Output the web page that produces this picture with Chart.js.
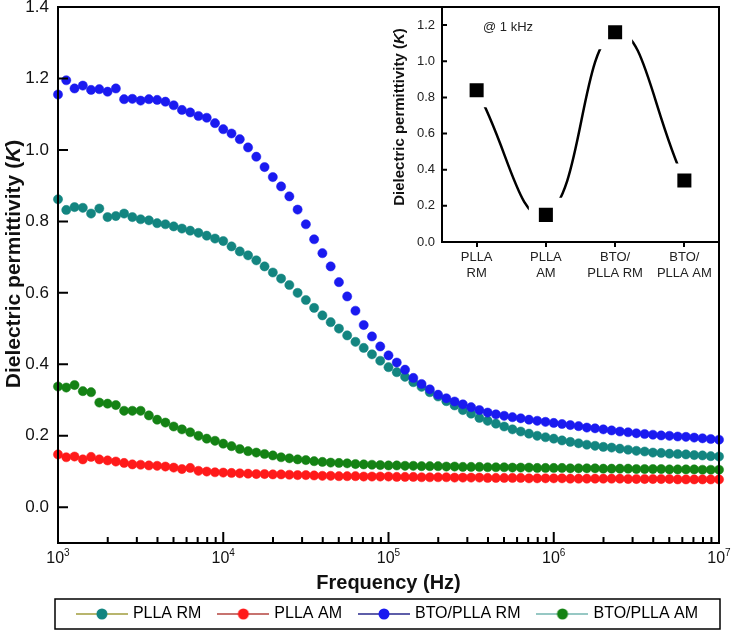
<!DOCTYPE html>
<html>
<head>
<meta charset="utf-8">
<script src="https://cdn.jsdelivr.net/npm/chart.js@4.4.1/dist/chart.umd.min.js"></script>
<style>
html,body{margin:0;padding:0;background:#fff}
#wrap{position:relative;width:731px;height:636px}
#main{position:absolute;left:0;top:0}
#inset{position:absolute;left:370px;top:0}
</style>
</head>
<body>
<div id="wrap">
  <canvas id="main" width="731" height="636"></canvas>
  <canvas id="inset" width="352" height="300"></canvas>
</div>
<script>
const FONT = '"Liberation Sans", Arial, Helvetica, sans-serif';

// log sweep, 20 points per decade
const FREQ_HZ = [1000,1122,1259,1413,1585,1778,1995,2239,2512,2818,3162,3548,3981,4467,5012,5623,6310,7079,7943,8913,
  10000,11220,12590,14130,15850,17780,19950,22390,25120,28180,31620,35480,39810,44670,50120,56230,63100,70790,79430,89130,
  100000,112200,125900,141300,158500,177800,199500,223900,251200,281800,316200,354800,398100,446700,501200,562300,631000,707900,794300,891300,
  1000000,1122000,1259000,1413000,1585000,1778000,1995000,2239000,2512000,2818000,3162000,3548000,3981000,4467000,5012000,5623000,6310000,7079000,7943000,8913000,
  10000000];

const PLLA_RM = [0.862,0.832,0.84,0.838,0.822,0.836,0.812,0.815,0.822,0.812,0.806,0.803,0.795,0.792,0.786,0.78,0.774,0.768,0.76,0.752,
  0.745,0.73,0.716,0.705,0.691,0.674,0.657,0.64,0.622,0.6,0.58,0.558,0.537,0.518,0.5,0.481,0.463,0.446,0.428,0.41,
  0.392,0.378,0.365,0.35,0.337,0.322,0.31,0.297,0.285,0.272,0.262,0.25,0.242,0.234,0.226,0.218,0.212,0.206,0.2,0.196,
  0.192,0.187,0.183,0.179,0.175,0.172,0.169,0.167,0.164,0.161,0.158,0.156,0.153,0.152,0.15,0.149,0.148,0.146,0.145,0.143,
  0.142];
const PLLA_AM = [0.148,0.14,0.142,0.134,0.141,0.134,0.131,0.128,0.124,0.12,0.119,0.117,0.116,0.114,0.111,0.107,0.11,0.102,0.1,0.098,
  0.097,0.096,0.095,0.094,0.093,0.093,0.092,0.092,0.091,0.09,0.09,0.089,0.088,0.088,0.087,0.087,0.087,0.086,0.086,0.086,
  0.086,0.085,0.085,0.085,0.084,0.084,0.084,0.084,0.083,0.083,0.083,0.083,0.082,0.082,0.082,0.082,0.082,0.081,0.081,0.081,
  0.081,0.081,0.08,0.08,0.08,0.08,0.08,0.08,0.08,0.079,0.079,0.079,0.079,0.079,0.079,0.078,0.078,0.078,0.078,0.078,
  0.078];
const BTO_PLLA_RM = [1.155,1.195,1.172,1.18,1.168,1.17,1.163,1.172,1.142,1.143,1.138,1.142,1.14,1.135,1.125,1.112,1.105,1.095,1.09,1.075,
  1.058,1.046,1.03,1.007,0.981,0.952,0.924,0.898,0.87,0.833,0.792,0.75,0.711,0.674,0.63,0.59,0.55,0.51,0.478,0.45,
  0.425,0.405,0.385,0.362,0.345,0.33,0.315,0.305,0.296,0.288,0.28,0.272,0.265,0.26,0.256,0.252,0.249,0.245,0.242,0.239,
  0.236,0.233,0.23,0.227,0.223,0.221,0.218,0.215,0.212,0.21,0.207,0.205,0.203,0.201,0.2,0.198,0.197,0.195,0.193,0.191,
  0.189];
const BTO_PLLA_AM = [0.338,0.335,0.342,0.325,0.322,0.293,0.29,0.286,0.27,0.27,0.27,0.257,0.245,0.237,0.226,0.218,0.21,0.2,0.192,0.186,
  0.178,0.171,0.163,0.157,0.153,0.149,0.145,0.14,0.137,0.134,0.132,0.129,0.127,0.125,0.124,0.123,0.121,0.12,0.119,0.118,
  0.117,0.117,0.116,0.116,0.115,0.115,0.115,0.114,0.114,0.113,0.113,0.113,0.112,0.112,0.112,0.111,0.111,0.111,0.11,0.11,
  0.11,0.11,0.109,0.109,0.109,0.109,0.108,0.108,0.108,0.108,0.107,0.107,0.107,0.107,0.106,0.106,0.106,0.106,0.105,0.105,
  0.105];

const SERIES_NAMES = ['PLLA RM', 'PLLA AM', 'BTO/PLLA RM', 'BTO/PLLA AM'];
const SERIES_VALUES = [PLLA_RM, PLLA_AM, BTO_PLLA_RM, BTO_PLLA_AM];
const X_EXPONENTS = [3, 4, 5, 6, 7];

// inset: value at 1 kHz
const INSET_LABELS = [['PLLA', 'RM'], ['PLLA', 'AM'], ['BTO/', 'PLLA RM'], ['BTO/', 'PLLA AM']];
const INSET_VALUES = [0.84, 0.15, 1.16, 0.34];

const STYLE = [
  {dot: '#138580', line: '#a09c3c', order: 1},
  {dot: '#ff1a1a', line: '#b4443f', order: 1},
  {dot: '#1a1af0', line: '#28288c', order: 0},
  {dot: '#148214', line: '#74b6b0', order: 1}
];

Chart.defaults.font.family = FONT;

// legend glyph: line with a dot in the middle
function glyph(lineColor, dotColor) {
  const c = document.createElement('canvas');
  c.width = 52; c.height = 14;
  const g = c.getContext('2d');
  g.strokeStyle = lineColor; g.lineWidth = 1.5;
  g.beginPath(); g.moveTo(0, 7); g.lineTo(52, 7); g.stroke();
  g.fillStyle = dotColor;
  g.beginPath(); g.arc(26, 7, 5.5, 0, Math.PI * 2); g.fill();
  return c;
}
const GLYPHS = STYLE.map(s => glyph(s.line, s.dot));

function yTitle(ctx, x, y, size) {
  const bold = 'bold ' + size + 'px ' + FONT, ital = 'italic bold ' + size + 'px ' + FONT;
  const parts = [['Dielectric permittivity (', bold], ['K', ital], [')', bold]];
  ctx.save();
  ctx.translate(x, y); ctx.rotate(-Math.PI / 2);
  let total = 0;
  parts.forEach(p => { ctx.font = p[1]; total += ctx.measureText(p[0]).width; });
  let cx = -total / 2;
  ctx.textBaseline = 'middle'; ctx.textAlign = 'left'; ctx.fillStyle = '#111';
  parts.forEach(p => { ctx.font = p[1]; ctx.fillText(p[0], cx, 0); cx += ctx.measureText(p[0]).width; });
  ctx.restore();
}

function noPad(s) { s.paddingTop = 0; s.paddingBottom = 0; s.paddingLeft = 0; s.paddingRight = 0; }

const mainDeco = {
  id: 'mainDeco',
  afterDraw(chart) {
    const {ctx, chartArea: a, scales: {x, y}} = chart;
    ctx.save();
    ctx.strokeStyle = '#000'; ctx.lineWidth = 2; ctx.lineJoin = 'miter';
    ctx.strokeRect(a.left, a.top, a.right - a.left, a.bottom - a.top);
    // inward ticks
    ctx.beginPath();
    X_EXPONENTS.forEach((e, k) => {
      const px = x.getPixelForValue(Math.pow(10, e));
      ctx.moveTo(px, a.bottom); ctx.lineTo(px, a.bottom - 11);
      if (k < X_EXPONENTS.length - 1) {
        for (let m = 2; m <= 9; m++) {
          const p = x.getPixelForValue(m * Math.pow(10, e));
          ctx.moveTo(p, a.bottom); ctx.lineTo(p, a.bottom - 6);
        }
      }
    });
    y.ticks.forEach(t => {
      const py = y.getPixelForValue(t.value);
      ctx.moveTo(a.left, py); ctx.lineTo(a.left + 10, py);
    });
    ctx.stroke();
    // x tick labels 10^n
    ctx.fillStyle = '#111'; ctx.textAlign = 'left'; ctx.textBaseline = 'alphabetic';
    X_EXPONENTS.forEach(e => {
      const px = x.getPixelForValue(Math.pow(10, e));
      ctx.font = '16px ' + FONT; const wb = ctx.measureText('10').width;
      ctx.font = '10px ' + FONT; const we = ctx.measureText(String(e)).width;
      const sx = px - (wb + we) / 2;
      ctx.font = '16px ' + FONT; ctx.fillText('10', sx, a.bottom + 20);
      ctx.font = '10px ' + FONT; ctx.fillText(String(e), sx + wb, a.bottom + 13);
    });
    // axis titles
    ctx.font = 'bold 20px ' + FONT; ctx.textAlign = 'center'; ctx.textBaseline = 'middle';
    ctx.fillText('Frequency (Hz)', (a.left + a.right) / 2, a.bottom + 40);
    yTitle(ctx, 14, 264, 21);
    // legend frame
    const hb = chart.legend.legendHitBoxes;
    if (hb && hb.length) {
      const top = Math.min(...hb.map(h => h.top)) - 7;
      const bot = Math.max(...hb.map(h => h.top + h.height)) + 7;
      ctx.lineWidth = 1.5;
      ctx.strokeRect(a.left - 3, top, a.right - a.left + 4, bot - top);
    }
    ctx.restore();
  }
};

new Chart(document.getElementById('main'), {
  type: 'scatter',
  data: {
    datasets: SERIES_NAMES.map((name, i) => ({
      label: name,
      data: FREQ_HZ.map((f, k) => ({x: f, y: SERIES_VALUES[i][k]})),
      showLine: false,
      pointRadius: 4.6,
      pointBorderWidth: 0.5,
      pointBackgroundColor: STYLE[i].dot,
      pointBorderColor: STYLE[i].dot,
      order: STYLE[i].order,
      clip: false
    }))
  },
  options: {
    responsive: false, animation: false, devicePixelRatio: 1,
    layout: {autoPadding: false, padding: {top: 7, right: 12, bottom: 4, left: 0}},
    plugins: {
      tooltip: {enabled: false},
      legend: {
        position: 'bottom', fullSize: false,
        labels: {
          usePointStyle: true, pointStyleWidth: 46, padding: 19,
          color: '#000', font: {family: FONT, size: 16},
          generateLabels: chart => chart.data.datasets.map((ds, i) => ({
            text: ds.label, pointStyle: GLYPHS[i], datasetIndex: i, hidden: false,
            fillStyle: 'rgba(0,0,0,0)', strokeStyle: 'rgba(0,0,0,0)', lineWidth: 0, fontColor: '#000'
          }))
        }
      }
    },
    scales: {
      x: {
        type: 'logarithmic', min: 1000, max: 10000000,
        grid: {display: false, drawTicks: false}, border: {display: false},
        ticks: {display: false},
        afterFit(s) { s.height = 44; noPad(s); }
      },
      y: {
        min: -0.1, max: 1.4,
        grid: {display: false, drawTicks: false}, border: {display: false},
        ticks: {stepSize: 0.2, padding: 9, color: '#111', font: {family: FONT, size: 17}, callback: v => v.toFixed(1)},
        afterBuildTicks(s) { s.ticks = s.ticks.filter(t => t.value > -0.001); },
        afterFit(s) { s.width = 58; noPad(s); }
      }
    }
  },
  plugins: [mainDeco]
});

const insetDeco = {
  id: 'insetDeco',
  afterDraw(chart) {
    const {ctx, chartArea: a, scales: {y}} = chart;
    ctx.save();
    ctx.strokeStyle = '#000'; ctx.lineWidth = 2;
    ctx.beginPath();
    y.ticks.forEach(t => {
      const py = y.getPixelForValue(t.value);
      ctx.moveTo(a.left, py); ctx.lineTo(a.left + 5, py);
    });
    ctx.stroke();
    ctx.fillStyle = '#222'; ctx.font = '13px ' + FONT;
    ctx.textAlign = 'left'; ctx.textBaseline = 'middle';
    ctx.fillText('@ 1 kHz', a.left + 41, 27);
    yTitle(ctx, 30, 117, 15);
    ctx.restore();
  }
};

new Chart(document.getElementById('inset'), {
  type: 'line',
  data: {
    labels: INSET_LABELS,
    datasets: [
      {data: INSET_VALUES, borderColor: '#000', borderWidth: 2.5, tension: 0.45, pointRadius: 0, order: 1, fill: false},
      {data: INSET_VALUES, showLine: false, pointStyle: 'rect', pointRadius: 17,
        pointBackgroundColor: '#000', pointBorderColor: '#fff', pointBorderWidth: 10, order: 0}
    ]
  },
  options: {
    responsive: false, animation: false, devicePixelRatio: 1,
    layout: {autoPadding: false, padding: {top: 7, right: 3, bottom: 0, left: 0}},
    plugins: {legend: {display: false}, tooltip: {enabled: false}},
    scales: {
      x: {
        offset: true,
        grid: {display: true, drawOnChartArea: false, drawTicks: true, tickLength: 5, color: '#000', lineWidth: 2},
        border: {display: true, color: '#000', width: 2},
        ticks: {font: {family: FONT, size: 13}, color: '#222', padding: 3, maxRotation: 0, autoSkip: false},
        afterFit(s) { s.height = 58; noPad(s); }
      },
      y: {
        min: 0, max: 1.3,
        grid: {display: false, drawTicks: false},
        border: {display: true, color: '#000', width: 2},
        ticks: {stepSize: 0.2, font: {family: FONT, size: 13}, color: '#222', padding: 7, callback: v => v.toFixed(1)},
        afterBuildTicks(s) { s.ticks = s.ticks.filter(t => t.value <= 1.2001); },
        afterFit(s) { s.width = 72; noPad(s); }
      }
    }
  },
  plugins: [insetDeco]
});
</script>
</body>
</html>
